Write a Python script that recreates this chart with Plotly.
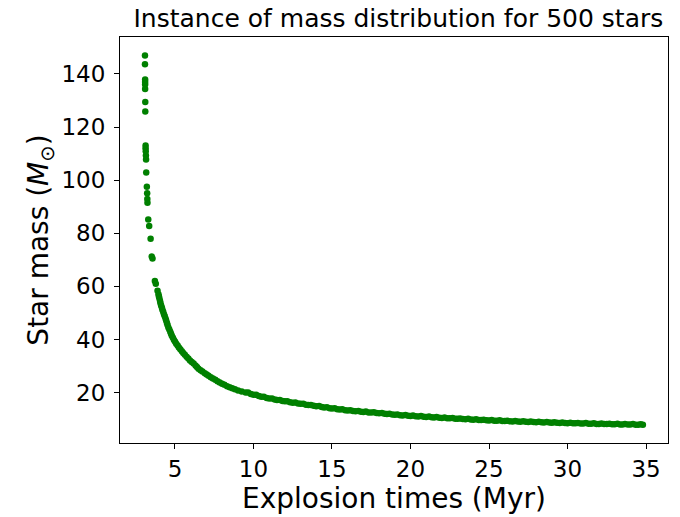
import plotly.graph_objects as go

# Explosion times (Myr) and star masses (Msun)
explosion_time_myr = [
    3.09, 3.09, 3.10, 3.10, 3.10, 3.10, 3.11, 3.11, 3.13, 3.13, 3.14, 3.15, 3.16,
    3.17, 3.21, 3.23, 3.24, 3.25, 3.30, 3.36, 3.45, 3.52, 3.57, 3.72, 3.78, 3.89, 3.95,
    3.98, 4.01, 4.05, 4.08, 4.12, 4.17, 4.20, 4.25, 4.30, 4.35, 4.40, 4.44, 4.49, 4.53,
    4.58, 4.64, 4.70, 4.75, 4.80, 4.87, 4.94, 5.01, 5.08, 5.17, 5.25, 5.34, 5.44, 5.53,
    5.63, 5.74, 5.85, 5.96, 6.07, 6.19, 6.31, 6.40, 6.50, 6.63, 6.75, 6.90, 7.02, 7.14,
    7.28, 7.42, 7.57, 7.71, 7.85, 8.00, 8.15, 8.32, 8.48, 8.65, 8.82, 9.02, 9.25,
    9.50, 9.66, 9.83, 10.00, 10.17, 10.34, 10.50, 10.66, 10.84, 11.00, 11.18, 11.35,
    11.50, 11.68, 11.85, 12.00, 12.16, 12.33, 12.50, 12.67, 12.84, 13.00, 13.17, 13.34,
    13.50, 13.66, 13.84, 14.00, 14.18, 14.35, 14.50, 14.68, 14.85, 15.00, 15.17, 15.34,
    15.50, 15.66, 15.84, 16.00, 16.17, 16.34, 16.50, 16.68, 16.85, 17.00, 17.16, 17.33,
    17.50, 17.67, 17.84, 18.00, 18.18, 18.35, 18.50, 18.66, 18.84, 19.00, 19.17, 19.34,
    19.50, 19.68, 19.85, 20.00, 20.16, 20.33, 20.50, 20.67, 20.84, 21.00, 21.18, 21.35,
    21.50, 21.66, 21.84, 22.00, 22.17, 22.34, 22.50, 22.68, 22.85, 23.00, 23.16, 23.33,
    23.50, 23.67, 23.84, 24.00, 24.18, 24.35, 24.50, 24.66, 24.84, 25.00, 25.17, 25.34,
    25.50, 25.68, 25.85, 26.00, 26.16, 26.33, 26.50, 26.67, 26.84, 27.00, 27.18, 27.35,
    27.50, 27.66, 27.84, 28.00, 28.17, 28.34, 28.50, 28.68, 28.85, 29.00, 29.16, 29.33,
    29.50, 29.67, 29.84, 30.00, 30.18, 30.35, 30.50, 30.66, 30.84, 31.00, 31.17, 31.34,
    31.50, 31.68, 31.85, 32.00, 32.16, 32.33, 32.50, 32.67, 32.84, 33.00, 33.18, 33.35,
    33.50, 33.66, 33.84, 34.00, 34.17, 34.34, 34.50, 34.66, 34.80,
]
star_mass_msun = [
    146.9, 143.6, 137.9, 137.0, 136.0, 134.3, 129.4, 125.8, 113.0, 112.0, 110.9, 109.3, 107.8,
    102.9, 97.5, 95.1, 92.9, 91.5, 85.2, 82.7, 77.9, 71.2, 70.5, 62.0, 61.0, 58.3, 57.0,
    56.2, 55.4, 54.5, 53.6, 52.8, 51.9, 51.2, 50.4, 49.5, 48.7, 47.9, 47.1, 46.2, 45.4,
    44.5, 43.7, 42.9, 42.1, 41.4, 40.6, 39.8, 39.1, 38.4, 37.7, 37.0, 36.3, 35.6, 34.9,
    34.2, 33.5, 32.8, 32.1, 31.5, 30.9, 30.2, 29.6, 29.0, 28.4, 27.9, 27.3, 26.8, 26.3,
    25.8, 25.3, 24.8, 24.3, 23.8, 23.3, 22.9, 22.4, 22.0, 21.6, 21.2, 20.8, 20.4,
    20.05, 19.98, 19.5, 19.2, 19.13, 18.66, 18.4, 18.4, 17.97, 17.75, 17.75, 17.37,
    17.2, 17.22, 16.85, 16.7, 16.74, 16.37, 16.2, 16.25, 15.9, 15.75, 15.8, 15.45,
    15.3, 15.35, 15.0, 14.85, 14.89, 14.53, 14.4, 14.46, 14.12, 14.0, 14.06, 13.73,
    13.6, 13.69, 13.36, 13.25, 13.35, 13.05, 12.95, 13.06, 12.77, 12.7, 12.82, 12.53,
    12.45, 12.57, 12.28, 12.2, 12.29, 11.99, 11.9, 12.02, 11.73, 11.65, 11.76, 11.48,
    11.4, 11.53, 11.26, 11.2, 11.33, 11.07, 11.0, 11.13, 10.86, 10.8, 10.95, 10.7,
    10.65, 10.78, 10.52, 10.45, 10.6, 10.35, 10.3, 10.43, 10.16, 10.1, 10.25, 10.0,
    9.95, 10.1, 9.85, 9.8, 9.95, 9.7, 9.65, 9.8, 9.55, 9.5, 9.66, 9.42,
    9.38, 9.54, 9.3, 9.26, 9.42, 9.18, 9.14, 9.3, 9.06, 9.03, 9.2, 8.96,
    8.93, 9.1, 8.87, 8.84, 9.01, 8.77, 8.74, 8.91, 8.68, 8.65, 8.82, 8.59,
    8.56, 8.73, 8.51, 8.48, 8.65, 8.42, 8.40, 8.57, 8.35, 8.32, 8.5, 8.27,
    8.25, 8.43, 8.2, 8.18, 8.36, 8.13, 8.11, 8.29, 8.07, 8.05, 8.23, 8.0,
    7.98, 8.16, 7.95, 7.93, 8.11, 7.9, 7.88, 8.05, 7.85,
]

x_ticks = [5, 10, 15, 20, 25, 30, 35]
y_ticks = [20, 40, 60, 80, 100, 120, 140]

FONT = "DejaVu Sans"

fig = go.Figure(
    go.Scatter(
        x=explosion_time_myr,
        y=star_mass_msun,
        mode="markers",
        marker=dict(color="#008000", size=6.5, line=dict(width=0)),
        showlegend=False,
    )
)

fig.update_layout(
    width=680,
    height=517,
    margin=dict(l=120, r=11, t=37, b=70),
    paper_bgcolor="white",
    plot_bgcolor="white",
    font=dict(family=FONT, color="black"),
    title=dict(
        text="Instance of mass distribution for 500 stars",
        font=dict(family=FONT, size=25, color="black"),
        x=0.508,
        xref="paper",
        xanchor="center",
        y=1 - 18 / 517,
        yref="container",
        yanchor="middle",
    ),
)

fig.update_xaxes(
    range=[1.5, 36.4],
    tickvals=x_ticks,
    ticktext=[str(v) for v in x_ticks],
    ticks="outside",
    ticklen=5,
    tickwidth=1,
    tickcolor="black",
    tickfont=dict(family=FONT, size=23, color="black"),
    showline=True,
    linecolor="black",
    linewidth=1,
    mirror=True,
    showgrid=False,
    zeroline=False,
    title=dict(text="Explosion times (Myr)", font=dict(family=FONT, size=28, color="black"), standoff=5),
)
fig.update_yaxes(
    range=[1.0, 153.9],
    tickvals=y_ticks,
    ticktext=[str(v) for v in y_ticks],
    ticks="outside",
    ticklen=5,
    tickwidth=1,
    tickcolor="black",
    tickfont=dict(family=FONT, size=23, color="black"),
    ticklabelstandoff=4,
    showline=True,
    linecolor="black",
    linewidth=1,
    mirror=True,
    showgrid=False,
    zeroline=False,
    title=dict(text="Star mass (<i>M</i><sub>⊙</sub>)", font=dict(family=FONT, size=28, color="black"), standoff=4),
)

fig.write_html("out.html")
